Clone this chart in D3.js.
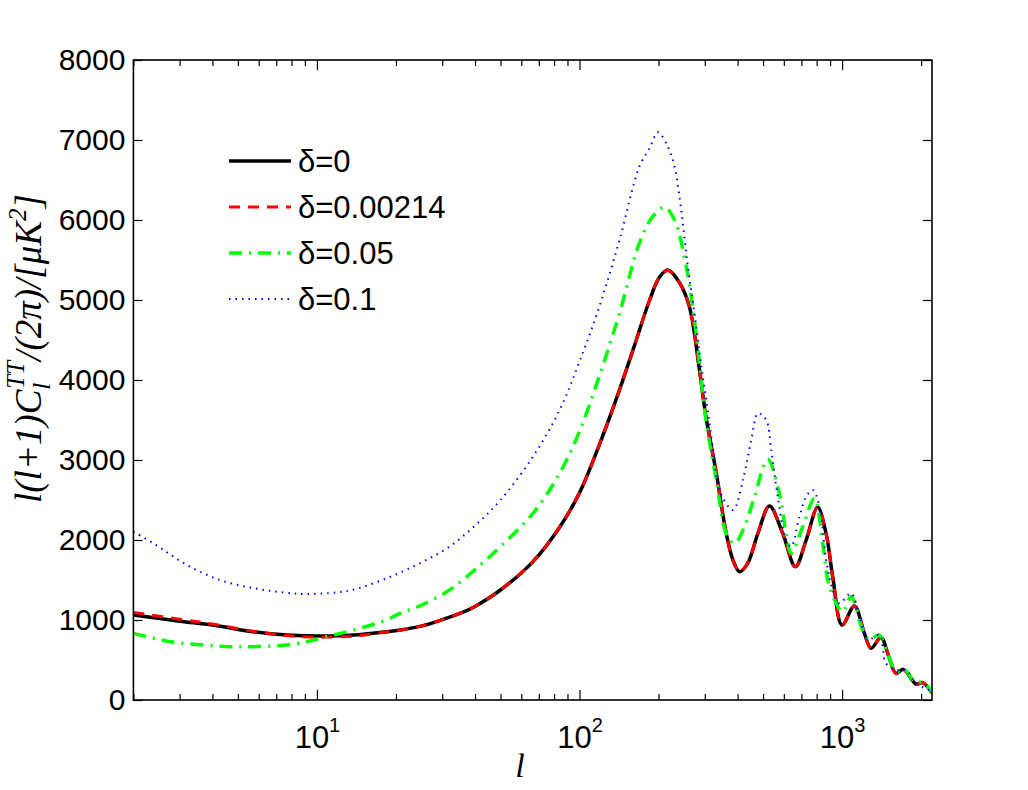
<!DOCTYPE html>
<html>
<head>
<meta charset="utf-8">
<script src="https://cdn.jsdelivr.net/npm/d3@7"></script>
<style>
  body { margin: 0; background: #fff; }
  svg { display: block; }
</style>
</head>
<body>
<div id="chart"></div>
<script>
// multipole grids and l(l+1)C_l/2pi values
const ellBlack = [2, 3, 4, 5.7, 7.7, 10.3, 13.8, 18.4, 20.7, 24.6, 27.6, 32, 37, 40, 50, 66.5, 84, 100, 119, 138, 160, 185, 202, 217, 240, 262, 287, 303, 332, 362, 384, 407, 437, 478, 529, 594, 664, 730, 807, 869, 921, 1000, 1114, 1216, 1289, 1407, 1500, 1605, 1710, 1913, 2026, 2200];
const cltBlack = [1062, 985, 937, 854, 812, 800, 812, 854, 875, 920, 965, 1035, 1115, 1170, 1375, 1730, 2160, 2590, 3190, 3760, 4380, 5000, 5290, 5375, 5220, 4917, 4100, 3542, 2833, 2083, 1750, 1604, 1708, 2083, 2425, 2083, 1667, 2000, 2408, 2083, 1542, 937, 1175, 833, 646, 783, 560, 333, 383, 200, 217, 90];
const cltRed = [1095, 1010, 950, 860, 805, 785, 800, 850, 872, 920, 965, 1035, 1115, 1170, 1375, 1730, 2160, 2590, 3190, 3760, 4380, 5000, 5290, 5370, 5220, 4917, 4100, 3542, 2833, 2083, 1750, 1604, 1708, 2083, 2425, 2083, 1667, 2000, 2408, 2083, 1542, 937, 1175, 833, 646, 783, 560, 333, 383, 200, 217, 90];

const ellGreen = [2, 2.76, 3.69, 4.66, 5.7, 7.66, 9.13, 10.9, 13.8, 18.4, 20.7, 24.6, 32, 40, 50, 66.5, 84, 100, 119, 142, 169, 190, 211, 230, 255, 278, 303, 332, 362, 389, 425, 464, 521, 577, 612, 640, 708, 785, 844, 895, 1005, 1082, 1197, 1270, 1380, 1500, 1605, 1710, 1913, 2026, 2200];
const cltGreen = [833, 729, 687, 667, 667, 687, 729, 792, 875, 1000, 1083, 1175, 1375, 1630, 1917, 2333, 2833, 3360, 4050, 4833, 5708, 6042, 6158, 6000, 5417, 4583, 3500, 2750, 2083, 1958, 2167, 2542, 3008, 2583, 2083, 1833, 2167, 2521, 1958, 1417, 1104, 1292, 875, 750, 813, 560, 350, 390, 215, 225, 100];

const ellBlue = [2, 2.38, 3.19, 4.27, 5.7, 7.66, 9.13, 11.9, 13.8, 18.4, 24.6, 32, 40, 50, 66.5, 84, 100, 119, 142, 169, 185, 199, 217, 230, 244, 258.5, 274, 291, 304, 322, 341, 384, 419, 451, 478, 514, 537, 569, 612, 640, 688, 730, 773, 820, 869, 921, 976, 1082, 1164, 1250, 1387, 1470, 1605, 1752, 1913, 2200];
const cltBlue = [2105, 1960, 1690, 1500, 1400, 1340, 1325, 1345, 1380, 1520, 1708, 1917, 2180, 2500, 3042, 3625, 4230, 4917, 5750, 6667, 6900, 7096, 6917, 6667, 6125, 5417, 4833, 4167, 3750, 3150, 2625, 2375, 2750, 3250, 3583, 3500, 3125, 2542, 2000, 1917, 2292, 2542, 2625, 2417, 1750, 1375, 1208, 1333, 1042, 750, 813, 458, 375, 375, 208, 110];

const legendLabels = ['δ=0', 'δ=0.00214', 'δ=0.05', 'δ=0.1'];
const yTicks = [0, 1000, 2000, 3000, 4000, 5000, 6000, 7000, 8000];
const xMajor = [10, 100, 1000];

(($d3) => {
  const zip = (ls, vs) => ls.map((l, i) => ({ l: l, v: vs[i] }));

  const series = [
    { label: legendLabels[0], values: zip(ellBlack, cltBlack), color: '#000000', width: 3.5, dash: null },
    { label: legendLabels[1], values: zip(ellBlack, cltRed), color: '#ff0000', width: 3, dash: '11,8' },
    { label: legendLabels[2], values: zip(ellGreen, cltGreen), color: '#00ff00', width: 3.5, dash: '13,7,2,7' },
    { label: legendLabels[3], values: zip(ellBlue, cltBlue), color: '#0000ff', width: 2, dash: '1.5,5' },
  ];

  const W = 1028, H = 790;
  const pLeft = 133.4, pRight = 932, pTop = 60, pBottom = 700;
  const sansFont = '"Liberation Sans", Arial, Helvetica, sans-serif';
  const serifFont = '"Liberation Serif", "Times New Roman", serif';

  const svg = $d3.select('#chart').append('svg')
    .attr('xmlns', 'http://www.w3.org/2000/svg')
    .attr('width', W)
    .attr('height', H);

  svg.append('rect').attr('width', W).attr('height', H).attr('fill', '#fff');

  const x = $d3.scaleLog().domain([2, 2200]).range([pLeft, pRight]);
  const y = $d3.scaleLinear().domain([0, 8000]).range([pBottom, pTop]);

  // minor ticks on the log axis: 2..9 times each decade
  const xAll = [];
  [1, 10, 100, 1000].forEach(function (dec) {
    for (let k = 1; k <= 9; k++) {
      const v = k * dec;
      if (v >= 2 && v <= 2200) xAll.push(v);
    }
  });

  // clip for the curves
  svg.append('defs').append('clipPath').attr('id', 'clip')
    .append('rect')
    .attr('x', pLeft).attr('y', pTop)
    .attr('width', pRight - pLeft).attr('height', pBottom - pTop);

  const line = $d3.line()
    .curve($d3.curveCatmullRom.alpha(0.5))
    .x(function (d) { return x(d.l); })
    .y(function (d) { return y(d.v); });

  svg.append('g')
    .attr('clip-path', 'url(#clip)')
    .selectAll('path')
    .data(series)
    .enter()
    .append('path')
    .attr('d', function (d) { return line(d.values); })
    .attr('fill', 'none')
    .attr('stroke', function (d) { return d.color; })
    .attr('stroke-width', function (d) { return d.width; })
    .attr('stroke-dasharray', function (d) { return d.dash; })
    .attr('stroke-linejoin', 'round');

  // axes (MATLAB style: inward ticks on all four sides)
  const isMajor = function (v) { return xMajor.indexOf(v) >= 0; };

  const gx = svg.append('g')
    .attr('transform', 'translate(0,' + pBottom + ')')
    .call($d3.axisBottom(x).tickValues(xAll).tickSizeOuter(0).tickSize(-10).tickFormat(function () { return ''; }));
  gx.selectAll('.tick line').attr('y2', function (d) { return isMajor(d) ? -10 : -6; });
  gx.selectAll('.tick text').each(function (d) {
    const t = $d3.select(this);
    t.text(null).attr('y', 48).attr('dy', null)
      .attr('font-family', sansFont).attr('font-size', 31).attr('fill', '#000');
    if (isMajor(d)) {
      t.append('tspan').text('10');
      t.append('tspan').attr('font-size', 20).attr('dy', -16).text(Math.round(Math.log10(d)));
    }
  });

  const gxTop = svg.append('g')
    .attr('transform', 'translate(0,' + pTop + ')')
    .call($d3.axisTop(x).tickValues(xAll).tickSizeOuter(0).tickSize(-10).tickFormat(function () { return ''; }));
  gxTop.selectAll('.tick line').attr('y2', function (d) { return isMajor(d) ? 10 : 6; });

  const gy = svg.append('g')
    .attr('transform', 'translate(' + pLeft + ',0)')
    .call($d3.axisLeft(y).tickValues(yTicks).tickFormat($d3.format('d'))
      .tickSizeOuter(0).tickSize(-9).tickPadding(8));
  gy.selectAll('.tick text')
    .attr('font-family', sansFont).attr('font-size', 30).attr('fill', '#000');

  svg.append('g')
    .attr('transform', 'translate(' + pRight + ',0)')
    .call($d3.axisRight(y).tickValues(yTicks).tickSizeOuter(0).tickSize(-9).tickFormat(function () { return ''; }));

  svg.selectAll('.domain').remove();
  svg.selectAll('.tick line').attr('stroke', '#000').attr('stroke-width', 1.2);

  svg.append('rect')
    .attr('x', pLeft).attr('y', pTop)
    .attr('width', pRight - pLeft).attr('height', pBottom - pTop)
    .attr('fill', 'none').attr('stroke', '#000').attr('stroke-width', 1.6);

  // axis titles
  svg.append('text')
    .attr('x', 520).attr('y', 777)
    .attr('text-anchor', 'middle')
    .attr('font-family', serifFont).attr('font-style', 'italic').attr('font-size', 34)
    .text('l');

  const ylab = svg.append('text')
    .attr('transform', 'translate(41,503) rotate(-90)')
    .attr('text-anchor', 'start')
    .attr('font-family', serifFont).attr('font-style', 'italic').attr('font-size', 37);
  ylab.append('tspan').text('l(l+1)C');
  ylab.append('tspan').attr('font-size', 25).attr('dy', 9).text('l');
  ylab.append('tspan').attr('font-size', 25).attr('dx', -6).attr('dy', -26).text('TT');
  ylab.append('tspan').attr('dy', 17).text('/(2π)/[μK');
  ylab.append('tspan').attr('font-size', 25).attr('dy', -15).text('2');
  ylab.append('tspan').attr('dy', 15).text(']');

  // legend
  const legend = svg.append('g').attr('class', 'legend');
  const rows = legend.selectAll('g')
    .data(series)
    .enter()
    .append('g')
    .attr('transform', function (d, i) { return 'translate(0,' + (161 + i * 46) + ')'; });
  rows.append('line')
    .attr('x1', 229).attr('x2', 291)
    .attr('stroke', function (d) { return d.color; })
    .attr('stroke-width', function (d) { return d.width; })
    .attr('stroke-dasharray', function (d) { return d.dash; });
  rows.append('text')
    .attr('x', 298).attr('y', 11)
    .attr('font-family', sansFont).attr('font-size', 31)
    .text(function (d) { return d.label; });
})(d3);
</script>
</body>
</html>
